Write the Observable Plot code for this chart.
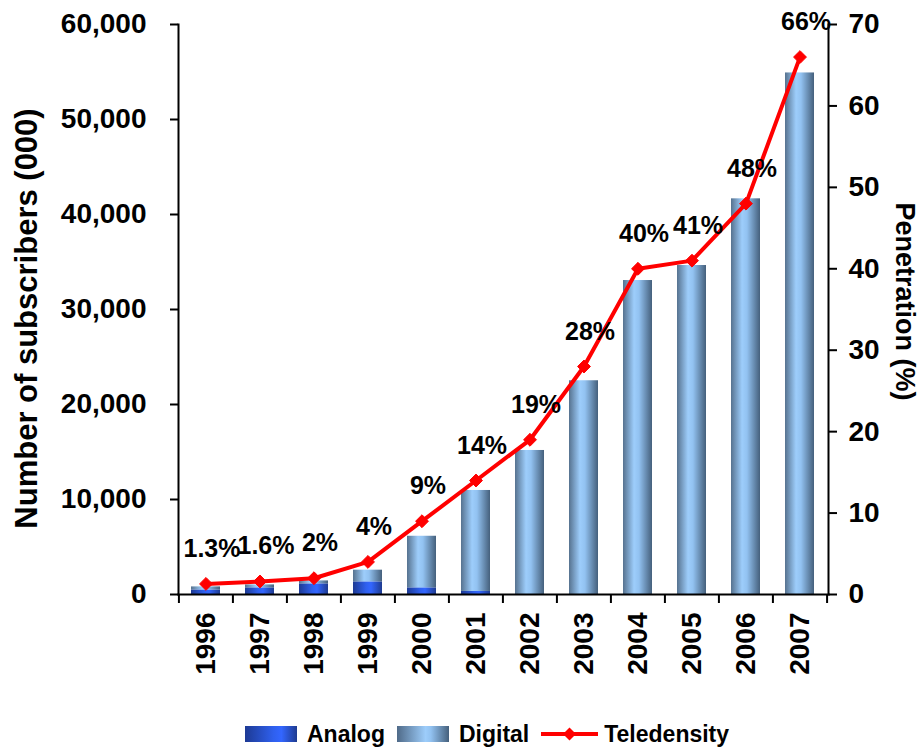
<!DOCTYPE html>
<html>
<head>
<meta charset="utf-8">
<script src="https://cdn.jsdelivr.net/npm/d3@7"></script>
<script src="https://cdn.jsdelivr.net/npm/@observablehq/plot@0.6"></script>
<style>
  body { margin: 0; background: #fff; font-family: "Liberation Sans", Arial, sans-serif; }
  #legend { display: flex; align-items: center; height: 26px; margin-top: 16px; padding-left: 245px;
            font-weight: bold; font-size: 23px; color: #000; }
  #legend .sw { width: 52px; height: 16px; margin-right: 10px; }
  #legend .item { display: flex; align-items: center; margin-right: 12px; }
</style>
</head>
<body>
<div id="chart"></div>
<div id="legend"></div>
<script>
// Subscribers (thousands) by year, split into analog and digital service
const years = ["1996", "1997", "1998", "1999", "2000", "2001", "2002", "2003", "2004", "2005", "2006", "2007"];
const analogSubs = [480, 700, 1120, 1330, 700, 320, 0, 0, 0, 0, 0, 0];
const digitalSubs = [320, 310, 310, 1230, 5430, 10630, 15160, 22500, 33050, 34630, 41650, 54900];
// Teledensity (penetration, %)
const teledensity = [1.3, 1.6, 2, 4, 9, 14, 19, 28, 40, 41, 48, 66];

const seriesNames = ["Analog", "Digital", "Teledensity"];
const axisTitles = ["Number of subscribers (000)", "Penetration (%)"];
const subscriberTicks = [0, 10000, 20000, 30000, 40000, 50000, 60000];
const penetrationTicks = [0, 10, 20, 30, 40, 50, 60, 70];

const SUB_MAX = 60000, PEN_MAX = 70;
const toSubScale = p => p * SUB_MAX / PEN_MAX;

const rows = years.map((year, i) => ({
  year,
  analog: analogSubs[i],
  digital: digitalSubs[i],
  total: analogSubs[i] + digitalSubs[i],
  pct: teledensity[i]
}));

const W = 921, H = 705;
const M = {top: 24, right: 93, bottom: 111, left: 178};
const step = (W - M.left - M.right) / years.length;
const font = "'Liberation Sans', Arial, sans-serif";

// Cylinder-like shading for the bars
function gradients() {
  const defs = d3.create("svg:defs");
  const add = (id, stops) => {
    const g = defs.append("linearGradient").attr("id", id).attr("x1", 0).attr("x2", 1).attr("y1", 0).attr("y2", 0);
    stops.forEach(([o, c]) => g.append("stop").attr("offset", o).attr("stop-color", c));
  };
  add("digitalGrad", [[0, "#56728f"], [0.38, "#9dcdfb"], [0.55, "#92c2f1"], [1, "#45607c"]]);
  add("analogGrad", [[0, "#1d3a94"], [0.45, "#2f60ee"], [0.62, "#3366ff"], [1, "#1e3b90"]]);
  return defs.node();
}

const chart = Plot.plot({
  width: W,
  height: H,
  marginTop: M.top,
  marginRight: M.right,
  marginBottom: M.bottom,
  marginLeft: M.left,
  style: {fontFamily: font, fontWeight: "bold", color: "#000", background: "#fff"},
  x: {type: "band", domain: years, paddingInner: 0.46, paddingOuter: 0.23},
  y: {domain: [0, SUB_MAX]},
  marks: [
    gradients,
    Plot.barY(rows.filter(d => d.analog > 0), {x: "year", y1: 0, y2: "analog", fill: "url(#analogGrad)"}),
    Plot.barY(rows, {x: "year", y1: "analog", y2: "total", fill: "url(#digitalGrad)"}),
    Plot.line(rows, {x: "year", y: d => toSubScale(d.pct), stroke: "#ff0000", strokeWidth: 4}),
    Plot.dot(rows, {x: "year", y: d => toSubScale(d.pct), symbol: "diamond2", r: 5.8, fill: "#ff0000", stroke: "#ff0000", strokeWidth: 1}),
    Plot.text(rows, {x: "year", y: d => toSubScale(d.pct), text: d => d.pct + "%", dy: -35, dx: 6,
      fontSize: 25, fontWeight: "bold", fill: "#000"}),
    // axis lines
    Plot.frame({anchor: "left", stroke: "#000", strokeWidth: 2}),
    Plot.frame({anchor: "right", stroke: "#000", strokeWidth: 2}),
    Plot.frame({anchor: "bottom", stroke: "#000", strokeWidth: 2}),
    // category separators below the baseline
    Plot.ruleX(years, {x: d => d, y1: 0, y2: 0, insetBottom: -9, dx: -step / 2, stroke: "#000", strokeWidth: 2}),
    Plot.ruleX(years.slice(-1), {x: d => d, y1: 0, y2: 0, insetBottom: -9, dx: step / 2, stroke: "#000", strokeWidth: 2}),
    Plot.axisX({tickSize: 0, tickRotate: -90, tickPadding: 18, fontSize: 28, fontWeight: "bold", label: null}),
    Plot.axisY(subscriberTicks, {anchor: "left", tickFormat: d3.format(","), tickSize: 8, tickPadding: 24,
      strokeWidth: 2, fontSize: 28, fontWeight: "bold", label: null}),
    Plot.axisY(penetrationTicks.map(toSubScale), {anchor: "right", tickFormat: v => Math.round(v * PEN_MAX / SUB_MAX),
      tickSize: 8, tickPadding: 12, strokeWidth: 2, fontSize: 28, fontWeight: "bold", label: null}),
    Plot.text([axisTitles[0]], {frameAnchor: "left", rotate: -90, dx: -151, dy: 9, textAnchor: "middle",
      lineAnchor: "middle", fontSize: 31, fontWeight: "bold", fill: "#000"}),
    Plot.text([axisTitles[1]], {frameAnchor: "right", rotate: 90, dx: 76, dy: -8, textAnchor: "middle",
      lineAnchor: "middle", fontSize: 27, fontWeight: "bold", fill: "#000"})
  ]
});
document.getElementById("chart").append(chart);

// Legend below the chart
const legend = d3.select("#legend");
const swatchBg = {
  Analog: "linear-gradient(to right, #1d3a94 0%, #2f60ee 55%, #3366ff 70%, #1e3b90 100%)",
  Digital: "linear-gradient(to right, #4f6a88 0%, #9dcdfb 55%, #92c2f1 65%, #45607c 100%)"
};
seriesNames.forEach(name => {
  const item = legend.append("div").attr("class", "item");
  if (name === "Teledensity") {
    const s = item.append("svg").attr("width", 57).attr("height", 16).style("margin-right", "6px");
    s.append("line").attr("x1", 0).attr("x2", 57).attr("y1", 8).attr("y2", 8)
      .attr("stroke", "#ff0000").attr("stroke-width", 4);
    s.append("path").attr("d", "M28.5,1.5L35,8L28.5,14.5L22,8Z").attr("fill", "#ff0000");
  } else {
    item.append("div").attr("class", "sw").style("background", swatchBg[name]);
  }
  item.append("span").text(name);
});
</script>
</body>
</html>
